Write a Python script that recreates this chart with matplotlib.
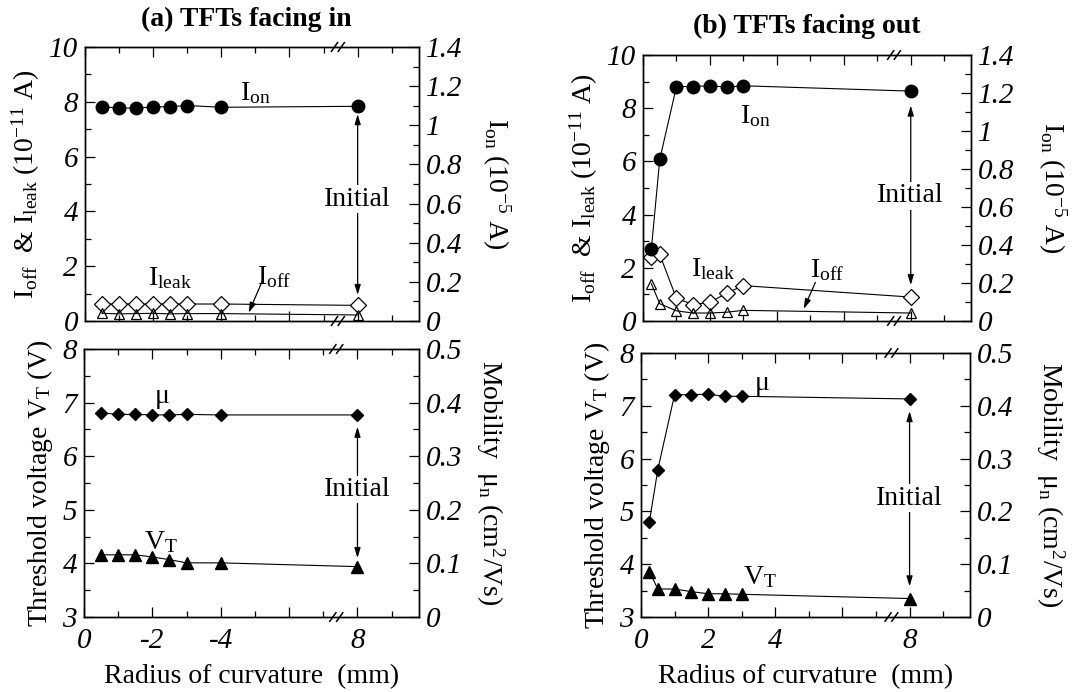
import matplotlib
matplotlib.use("Agg")
import matplotlib.pyplot as plt
from matplotlib.ticker import MultipleLocator

plt.rcParams["font.family"] = ["Liberation Serif", "DejaVu Serif"]
plt.rcParams["mathtext.fontset"] = "custom"
plt.rcParams["mathtext.rm"] = "Liberation Serif"
plt.rcParams["mathtext.it"] = "Liberation Serif:italic"
plt.rcParams["mathtext.bf"] = "Liberation Serif:bold"

# radius of curvature (mm); point at 8 is the flat "initial" state
x_in = [0.5, 1.0, 1.5, 2.0, 2.5, 3.0, 4.0, 8.0]
x_out = [0.25, 0.5, 1.0, 1.5, 2.0, 2.5, 3.0, 8.0]

# (a) facing in
ion_in = [1.095, 1.088, 1.088, 1.094, 1.095, 1.101, 1.092, 1.097]   # 1e-5 A
ileak_in = [0.62, 0.62, 0.62, 0.62, 0.62, 0.62, 0.62, 0.57]          # 1e-11 A
ioff_in = [0.28, 0.26, 0.27, 0.28, 0.26, 0.27, 0.27, 0.22]           # 1e-11 A
mu_in = [0.381, 0.378, 0.378, 0.377, 0.377, 0.378, 0.377, 0.377]     # cm2/Vs
vt_in = [4.16, 4.16, 4.16, 4.12, 4.07, 4.01, 4.01, 3.94]             # V

# (b) facing out
ion_out = [0.379, 0.85, 1.234, 1.234, 1.238, 1.231, 1.238, 1.21]
ileak_out = [2.4, 2.5, 0.85, 0.62, 0.7, 1.05, 1.33, 0.9]
ioff_out = [1.4, 0.65, 0.38, 0.3, 0.3, 0.33, 0.4, 0.3]
mu_out = [0.180, 0.279, 0.421, 0.421, 0.422, 0.418, 0.418, 0.413]
vt_out = [3.86, 3.53, 3.53, 3.48, 3.44, 3.44, 3.43, 3.35]

xlabels_in = ["0", "-2", "-4", "", "8"]
xlabels_out = ["0", "2", "4", "", "8"]

W, H = 1075, 692
TS = 21   # tick labels
LS = 20   # axis labels
AS = 20   # in-plot annotations
fig = plt.figure(figsize=(W / 100, H / 100), dpi=100)


def add_axes(left, top, right, bottom):
    return fig.add_axes([left / W, 1 - bottom / H, (right - left) / W, (bottom - top) / H])


def style(ax, ax2, xlabels, breakx, yl, yr):
    ax.set_xlim(0, 9.8)
    ax.set_xticks([0, 2, 4, 6, 8])
    ax.xaxis.set_minor_locator(MultipleLocator(1))
    if xlabels:
        ax.set_xticklabels(xlabels, fontstyle="italic", fontsize=TS)
    else:
        ax.set_xticklabels([])
    ax.set_ylim(yl[0], yl[1])
    ax.set_yticks(yl[2], [str(v) for v in yl[2]], fontstyle="italic", fontsize=TS)
    ax.yaxis.set_minor_locator(MultipleLocator(yl[3]))
    ax2.set_ylim(yr[0], yr[1])
    ax2.set_yticks(yr[2], yr[4], fontstyle="italic", fontsize=TS)
    ax2.yaxis.set_minor_locator(MultipleLocator(yr[3]))
    ax.tick_params(which="both", direction="in", top=True, right=False, width=0.9)
    ax.tick_params(which="major", length=7)
    ax.tick_params(axis="y", which="major", pad=5)
    ax.tick_params(axis="x", which="major", pad=8)
    ax.tick_params(which="minor", length=4)
    ax2.tick_params(which="both", direction="in", width=0.9)
    ax2.tick_params(which="major", length=7, pad=5)
    ax2.tick_params(which="minor", length=4)
    for a in (ax, ax2):
        for s in a.spines.values():
            s.set_linewidth(1.0)
    # axis break marks on top and bottom spines
    tr = ax.get_xaxis_transform()
    for yb in (0, 1):
        for dx in (-0.1, 0.1):
            ax.plot([breakx + dx - 0.09, breakx + dx + 0.09], [yb - 0.016, yb + 0.016],
                    transform=tr, color="k", lw=1.1, clip_on=False)


def initial_arrow(ax, x, y0, y1, ytext):
    ax.annotate("", xy=(x, y0), xytext=(x, y1),
                arrowprops=dict(arrowstyle="<|-|>,head_length=0.6,head_width=0.18",
                                color="k", lw=0.9, shrinkA=0, shrinkB=0))
    ax.text(x, ytext, "Initial", ha="center", va="center", fontsize=AS,
            bbox=dict(facecolor="white", edgecolor="none", pad=1))


def off_arrow(ax, tip, tail):
    ax.annotate("", xy=tip, xytext=tail,
                arrowprops=dict(arrowstyle="-|>,head_length=0.6,head_width=0.18", color="k",
                                lw=0.9, shrinkA=0, shrinkB=0))


left_curr = (0, 10, [0, 2, 4, 6, 8, 10], 1)
right_curr = (0, 1.4, [0, 0.2, 0.4, 0.6, 0.8, 1.0, 1.2, 1.4], 0.1,
              ["0", "0.2", "0.4", "0.6", "0.8", "1", "1.2", "1.4"])
left_vt = (3, 8, [3, 4, 5, 6, 7, 8], 0.5)
right_mu = (0, 0.5, [0, 0.1, 0.2, 0.3, 0.4, 0.5], 0.05,
            ["0", "0.1", "0.2", "0.3", "0.4", "0.5"])

ylab_curr = r"I$_{\mathrm{off}}$  & I$_{\mathrm{leak}}$ (10$^{\mathrm{-11}}$ A)"
ylab_on = r"I$_{\mathrm{on}}$ (10$^{\mathrm{-5}}$ A)"
ylab_vt = r"Threshold voltage V$_{\mathrm{T}}$ (V)"
ylab_mu = r"Mobility  μ$_{\mathrm{n}}$ (cm$^{\mathrm{2}}$/Vs)"

# ---- (a) TFTs facing in ----
axa = add_axes(85, 47, 419, 321)
axa2 = axa.twinx()
axa.plot(x_in, ileak_in, "-", color="k", lw=0.8, marker="D", ms=8, mfc="white", mec="k", mew=0.9)
axa.plot(x_in, ioff_in, "-", color="k", lw=0.8, marker="^", ms=7, mfc="none", mec="k", mew=0.9)
axa2.plot(x_in, ion_in, "-", color="k", lw=0.8, marker="o", ms=9)
style(axa, axa2, None, 7.42, left_curr, right_curr)
fig.text(246 / W, 1 - 19 / H, "(a) TFTs facing in", fontsize=20, fontweight="bold",
         ha="center", va="center")
axa.set_ylabel(ylab_curr, fontsize=LS, labelpad=5)
axa2.set_ylabel(ylab_on, fontsize=LS, rotation=-90, labelpad=36)
axa.text(5.0, 8.3, r"I$_{\mathrm{on}}$", fontsize=AS, ha="center", va="center")
axa.text(2.5, 1.55, r"I$_{\mathrm{leak}}$", fontsize=AS, ha="center", va="center")
axa.text(5.55, 1.6, r"I$_{\mathrm{off}}$", fontsize=AS, ha="center", va="center")
off_arrow(axa, (4.8, 0.3), (5.2, 1.45))
initial_arrow(axa, 8, 0.95, 7.55, 4.45)

axb = add_axes(84, 349, 419, 617)
axb2 = axb.twinx()
axb.plot(x_in, vt_in, "-", color="k", lw=0.8, marker="^", ms=8)
axb2.plot(x_in, mu_in, "-", color="k", lw=0.8, marker="D", ms=6.5)
style(axb, axb2, xlabels_in, 7.38, left_vt, right_mu)
axb.set_xlabel("Radius of curvature  (mm)", fontsize=LS, labelpad=7)
axb.set_ylabel(ylab_vt, fontsize=LS, labelpad=5)
axb2.set_ylabel(ylab_mu, fontsize=LS, rotation=-90, labelpad=32)
axb.text(2.3, 7.12, "μ", fontsize=AS, ha="center", va="center")
axb.text(2.25, 4.4, r"V$_{\mathrm{T}}$", fontsize=AS, ha="center", va="center")
initial_arrow(axb, 8, 4.1, 6.55, 5.38)

# ---- (b) TFTs facing out ----
axc = add_axes(643, 55, 971, 321)
axc2 = axc.twinx()
axc.plot(x_out, ileak_out, "-", color="k", lw=0.8, marker="D", ms=8, mfc="white", mec="k", mew=0.9)
axc.plot(x_out, ioff_out, "-", color="k", lw=0.8, marker="^", ms=7, mfc="none", mec="k", mew=0.9)
axc2.plot(x_out, ion_out, "-", color="k", lw=0.8, marker="o", ms=9)
style(axc, axc2, None, 7.5, left_curr, right_curr)
fig.text(807 / W, 1 - 26 / H, "(b) TFTs facing out", fontsize=20, fontweight="bold",
         ha="center", va="center")
axc.set_ylabel(ylab_curr, fontsize=LS, labelpad=5)
axc2.set_ylabel(ylab_on, fontsize=LS, rotation=-90, labelpad=39)
axc.text(3.35, 7.7, r"I$_{\mathrm{on}}$", fontsize=AS, ha="center", va="center")
axc.text(2.1, 1.95, r"I$_{\mathrm{leak}}$", fontsize=AS, ha="center", va="center")
axc.text(5.5, 1.9, r"I$_{\mathrm{off}}$", fontsize=AS, ha="center", va="center")
off_arrow(axc, (4.8, 0.45), (5.15, 1.45))
initial_arrow(axc, 8, 1.35, 8.1, 4.7)

axd = add_axes(641, 353, 970, 617)
axd2 = axd.twinx()
axd.plot(x_out, vt_out, "-", color="k", lw=0.8, marker="^", ms=8)
axd2.plot(x_out, mu_out, "-", color="k", lw=0.8, marker="D", ms=6.5)
style(axd, axd2, xlabels_out, 7.46, left_vt, right_mu)
axd.set_xlabel("Radius of curvature  (mm)", fontsize=LS, labelpad=7)
axd.set_ylabel(ylab_vt, fontsize=LS, labelpad=5)
axd2.set_ylabel(ylab_mu, fontsize=LS, rotation=-90, labelpad=38)
axd.text(3.6, 7.43, "μ", fontsize=AS, ha="center", va="center")
axd.text(3.55, 3.75, r"V$_{\mathrm{T}}$", fontsize=AS, ha="center", va="center")
initial_arrow(axd, 8, 3.58, 6.9, 5.25)

fig.savefig("out.png", dpi=100)
